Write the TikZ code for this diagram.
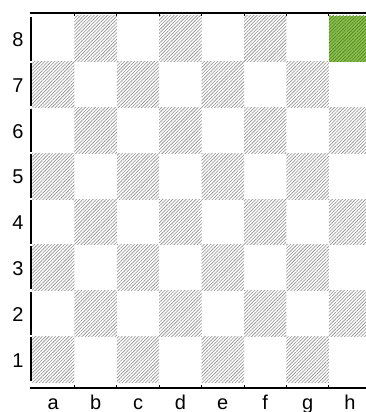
\documentclass[tikz,border=0pt]{standalone}
\usepackage{fontspec}
\setmainfont{Liberation Sans}
\usetikzlibrary{patterns.meta}
\definecolor{sqgreen}{RGB}{139,195,74}
\definecolor{hatchgray}{RGB}{140,140,140}
\definecolor{hatchgreen}{RGB}{78,125,42}
\tikzset{
  darksq/.style={pattern={Lines[angle=45,distance=2.35pt,line width=0.6pt]}, pattern color=hatchgray},
  greensq/.style={pattern={Lines[angle=45,distance=2.35pt,line width=0.6pt]}, pattern color=hatchgreen},
  axisline/.style={line width=2.6pt, black},
  tickline/.style={line width=0.8pt, black},
  lab/.style={font=\fontsize{20}{22}\selectfont, inner sep=0pt}
}
\begin{document}
\begin{tikzpicture}[x=1pt,y=-1pt]
\useasboundingbox (0,0) rectangle (366,412);
\clip (0,0) rectangle (366,412);
\def\sx{42.4}
\def\sy{45.75}
% squares
\foreach \c in {0,...,7}{
  \foreach \r in {0,...,7}{
    \pgfmathtruncatemacro\p{mod(\c+\r,2)}
    \ifnum\p=1
      \pgfmathtruncatemacro\g{(\c==7)&&(\r==0)}
      \ifnum\g=1
        \fill[sqgreen] ({32+\c*\sx},{16+\r*\sy}) rectangle ({32+(\c+1)*\sx},{16+(\r+1)*\sy});
        \fill[greensq] ({32+\c*\sx},{16+\r*\sy}) rectangle ({32+(\c+1)*\sx},{16+(\r+1)*\sy});
      \else
        \fill[darksq] ({32+\c*\sx},{16+\r*\sy}) rectangle ({32+(\c+1)*\sx},{16+(\r+1)*\sy});
      \fi
    \fi
  }
}
% left axis segments
\foreach \r in {0,...,7}{
  \draw[axisline] (31,{16+\r*\sy+1.2}) -- (31,{16+(\r+1)*\sy-1.2});
}
% top and bottom lines
\draw[axisline] (29.7,13) -- (366,13);
\draw[axisline] (29.7,388) -- (366,388);
\foreach \c in {1,...,7}{
  \draw[tickline] ({32+\c*\sx},13) -- ({32+\c*\sx},16);
  \draw[tickline] ({32+\c*\sx},388) -- ({32+\c*\sx},385.3);
}
% rank labels
\foreach \n [count=\i from 0] in {8,7,6,5,4,3,2,1}{
  \node[lab] (r\n) at (18,{16+(\i+0.5)*\sy+1}) {\n};
}
% file labels
\foreach \f [count=\i from 0] in {a,b,c,d,e,f,g,h}{
  \node[lab, anchor=base] (f\f) at ({32+(\i+0.5)*\sx},409) {\f};
}
\end{tikzpicture}
\end{document}
